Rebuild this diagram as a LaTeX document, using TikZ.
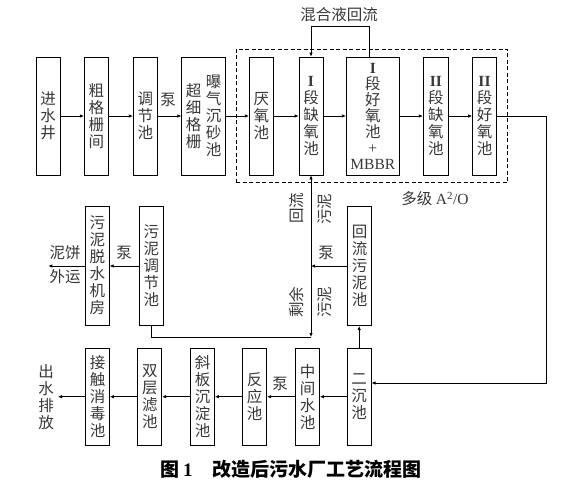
\documentclass[tikz,border=0pt]{standalone}
\usepackage{fontspec}
\setmainfont{Liberation Serif}
\newfontfamily\cjk{Noto Sans CJK SC}
\usetikzlibrary{arrows.meta}
\definecolor{txt}{RGB}{55,55,55}
\begin{document}
\begin{tikzpicture}[x=1pt,y=-1pt,
  box/.style={draw=black, line width=0.7pt, inner sep=0pt, minimum width=24pt, align=center, text=txt, font=\cjk\fontsize{15.5}{17}\selectfont},
  topbox/.style={box, minimum height=118pt},
  midbox/.style={box, minimum height=119pt},
  botbox/.style={box, minimum height=96.7pt},
  lab/.style={inner sep=0pt, text=txt, align=center, font=\cjk\fontsize{15.5}{17}\selectfont},
  arr/.style={line width=0.7pt, -{Latex[length=4pt,width=3.4pt]}},
  ln/.style={line width=0.7pt}]
\useasboundingbox (0,0) rectangle (569,489);

% dashed A2O frame
\node[draw=black, line width=0.7pt, dash pattern=on 4pt off 2.5pt, inner sep=0pt, minimum width=271.7pt, minimum height=133pt] (a2o) at (371.85,115.8) {};

% top row
\node[topbox] (jsj) at (48,116) {进\\水\\井};
\node[topbox] (cgs) at (96.3,116) {粗\\格\\栅\\间};
\node[topbox] (tjc) at (145.3,116) {调\\节\\池};
\node[topbox, minimum width=44pt] (cxgs) at (203.7,116) {};
\node[lab] (cxgsL) at (193.5,116.5) {超\\细\\格\\栅};
\node[lab] (cxgsR) at (213.5,116) {曝\\气\\沉\\砂\\池};
\node[topbox] (yyc) at (261.3,116) {厌\\氧\\池};
\node[topbox] (qy1) at (311,116) {{\rmfamily\bfseries I}\\段\\缺\\氧\\池};
\node[topbox, minimum width=53pt, font=\cjk\fontsize{15.5}{16}\selectfont] (hy1) at (372.8,116) {{\rmfamily\bfseries I}\\段\\好\\氧\\池\\{\rmfamily +}\\{\rmfamily MBBR}};
\node[topbox, minimum width=25pt] (qy2) at (435.8,116) {{\rmfamily\bfseries II}\\段\\缺\\氧\\池};
\node[topbox] (hy2) at (484.5,116) {{\rmfamily\bfseries II}\\段\\好\\氧\\池};

% middle row
\node[midbox] (tsjf) at (97.3,265.5) {污\\泥\\脱\\水\\机\\房};
\node[midbox] (wntj) at (151.3,265.5) {污\\泥\\调\\节\\池};
\node[midbox] (hlwn) at (359.7,266.2) {回\\流\\污\\泥\\池};

% bottom row
\node[botbox] (jcxd) at (97.5,396.7) {接\\触\\消\\毒\\池};
\node[botbox] (scl) at (149.8,396.7) {双\\层\\滤\\池};
\node[botbox] (xbcd) at (202.5,396.7) {斜\\板\\沉\\淀\\池};
\node[botbox] (fyc) at (254.7,396.7) {反\\应\\池};
\node[botbox] (zjsc) at (307.5,396.7) {中\\间\\水\\池};
\node[botbox] (ecc) at (359.2,396.7) {二\\沉\\池};

% labels
\node[lab] (p1) at (168,100) {泵};
\node[lab] (hhy) at (339,15) {混合液回流};
\node[lab] (a2olab) at (435,199) {多级 {\rmfamily A\textsuperscript{2}/O}};
\node[lab] (nb) at (65,253) {泥饼};
\node[lab] (wy) at (65,277) {外运};
\node[lab] (p2) at (124,253) {泵};
\node[lab] (p3) at (326,253) {泵};
\node[lab, rotate=90] (hl) at (297,208) {回流};
\node[lab, rotate=90] (wn1) at (325,209) {污泥};
\node[lab, rotate=90] (sy) at (297,302) {剩余};
\node[lab, rotate=90] (wn2) at (325,302) {污泥};
\node[lab] (p4) at (280,384) {泵};
\node[lab] (cspf) at (46,397) {出\\水\\排\\放};
\node[anchor=west, inner sep=0pt, text=black, font=\cjk\bfseries\fontsize{19}{21}\selectfont] (cap) at (160,469) {图\hspace{4pt}{\rmfamily 1}\hspace{20pt}改造后污水厂工艺流程图};

% coordinates
\coordinate (mr) at (369.3,26);
\coordinate (rc) at (546.5,383);
\coordinate (jn) at (311,266);
\coordinate (cn) at (311,337);
\coordinate (so) at (48.3,266);
\coordinate (wo) at (58,396.7);

% top row connectors
\draw[arr] (jsj) -- (cgs);
\draw[arr] (cgs) -- (tjc);
\draw[arr] (tjc) -- (cxgs);
\draw[arr] (cxgs) -- (yyc);
\draw[arr] (yyc) -- (qy1);
\draw[arr] (qy1) -- (hy1);
\draw[arr] (hy1) -- (qy2);
\draw[arr] (qy2) -- (hy2);
% mixed liquor return
\draw[arr] (hy1.north -| mr) -- (mr) -- (qy1.north |- mr) -- (qy1.north);
% to secondary clarifier
\draw[arr] (hy2.east) -- (hy2.east -| rc) -- (rc) -- (ecc.east |- rc);
% sludge
\draw[arr] (ecc.north) -- (ecc.north |- hlwn.south);
\draw[arr] (hlwn.west |- jn) -- (jn);
\draw[arr] (jn) -- (qy1.south);
\draw[arr] (jn) -- (cn);
\draw[ln] (cn) -- (wntj.south |- cn) -- (wntj.south);
\draw[arr] (wntj.west |- jn) -- (tsjf.east |- jn);
\draw[arr] (tsjf.west |- jn) -- (so);
% bottom row
\draw[arr] (ecc) -- (zjsc);
\draw[arr] (zjsc) -- (fyc);
\draw[arr] (fyc) -- (xbcd);
\draw[arr] (xbcd) -- (scl);
\draw[arr] (scl) -- (jcxd);
\draw[arr] (jcxd) -- (wo);
\end{tikzpicture}
\end{document}
